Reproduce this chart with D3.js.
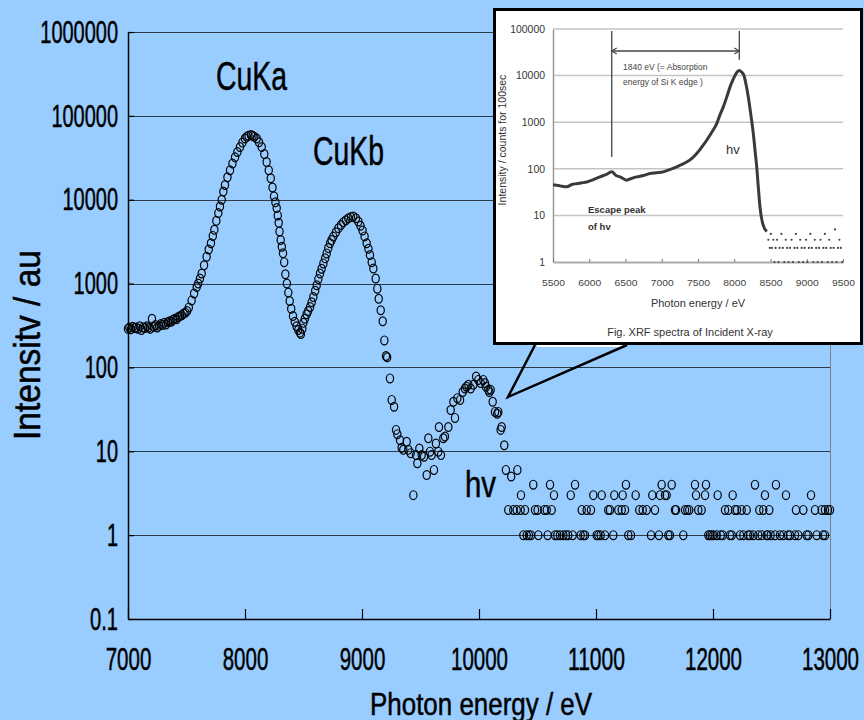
<!DOCTYPE html>
<html>
<head>
<meta charset="utf-8">
<script src="https://cdnjs.cloudflare.com/ajax/libs/d3/7.8.5/d3.min.js"></script>
<style>
  body { margin: 0; background: #99ccff; }
  svg { display: block; font-family: "Liberation Sans", Arial, sans-serif; }
  .heavy { stroke: #000; stroke-width: 0.5px; }
</style>
</head>
<body>
<div id="chart"></div>
<script>
// ---- data: [photon energy (eV), intensity (au)] ----
const background = [
  [7000,290],[7012,300],[7025,285],[7040,305],[7055,295],[7070,300],[7085,290],[7100,310],
  [7115,280],[7130,300],[7145,295],[7160,310],[7175,300],[7190,290],[7205,380],[7220,305],
  [7235,320],[7250,300],[7265,315],[7280,330],[7295,320],[7310,340],[7325,325],[7340,345],
  [7355,355],[7370,350],[7385,370],[7400,380],[7415,375],[7430,400],[7445,410],[7460,420],
  [7475,440],[7490,450],[7505,470],[7520,520]
];
const cuKaPeak = [
  [7544,630],[7565,760],[7587,910],[7600,1000],[7615,1150],[7630,1320],[7650,1650],[7672,2090],
  [7690,2550],[7709,3020],[7725,3700],[7738,4370],[7755,5600],[7772,6920],[7786,8300],[7801,10000],
  [7815,12500],[7829,15000],[7850,18500],[7872,22400],[7893,27000],[7915,32000],[7935,37000],
  [7957,42600],[7978,48000],[8000,53700],[8015,56500],[8030,58000],[8051,59000],[8065,58000],
  [8080,56500],[8100,53700],[8120,48500],[8143,42600],[8165,35000],[8185,28200],[8203,22500],
  [8220,18000],[8235,14000],[8248,11000],[8260,9300],[8271,7940],[8280,6500],[8288,5300],
  [8295,4170],[8305,3300],[8315,2750],[8325,2300],[8335,1800],[8345,1290],[8358,1000],[8370,780],
  [8382,620],[8395,500],[8410,410],[8425,350],[8440,310],[8455,280],[8470,260],[8478,250]
];
const cuKbPeak = [
  [8490,290],[8499,340],[8512,380],[8527,430],[8540,470],[8556,525],[8570,600],[8584,690],
  [8600,820],[8613,955],[8627,1130],[8641,1320],[8655,1500],[8670,1740],[8685,2000],[8698,2290],
  [8712,2650],[8727,3020],[8740,3300],[8755,3630],[8777,4100],[8798,4570],[8820,5000],[8840,5400],
  [8862,5700],[8883,6000],[8905,6200],[8926,6300],[8948,6000],[8969,5500],[8987,4900],[9005,4300],
  [9022,3650],[9040,3020],[9055,2600],[9068,2190],[9083,1800],[9097,1510],[9117,1150],[9131,870],
  [9143,660],[9160,480],[9177,355],[9191,210],[9205,137],[9215,132]
];
const hvPeak = [
  [9239,74],[9254,41],[9274,34],[9291,18],[9302,16],[9325,13.5],[9339,11],[9353,10.4],[9382,13],
  [9396,10.4],[9416,9.5],[9439,3],[9462,9],[9473,7.2],[9490,10.8],[9510,9],[9530,8.6],[9553,5.2],
  [9567,14.3],[9581,9.9],[9595,9],[9615,6],[9632,12.4],[9652,9.9],[9658,19.5],[9675,9],[9695,14.3],
  [9709,15],[9738,19.5],[9758,31],[9781,39],[9795,25],[9815,43],[9838,41],[9861,51],[9880,56],
  [9893,59],[9909,62],[9929,56],[9952,62],[9975,78],[9994,71],[10015,65],[10037,71],[10051,65],
  [10060,59],[10080,54],[10088,51],[10100,54],[10117,39],[10137,29.5],[10156,28],[10165,29.5],
  [10185,18],[10194,19.5],[10216,11.8],[10230,6],[10275,5],[10328,6]
];
// energies of the tail points, grouped by their count
const tailFours = [10464,10607,10821,11256,11561,11647,11846,11940,12359,12538];
const tailThrees = [10359,10641,10784,10977,11049,11156,11228,11339,11481,11547,11590,11604,
  11855,11932,12040,12168,12444,12624,12838];
const tailTwos = [10250,10293,10322,10356,10393,10479,10501,10558,10579,10621,10878,10920,10957,
  11105,11120,11191,11220,11248,11370,11399,11433,11504,11675,11684,11761,11780,11797,11874,11903,
  12103,12131,12188,12205,12245,12288,12396,12430,12481,12709,12772,12872,12929,12957,12983,13000];
const tailOnes = [10379,10408,10427,10444,10507,10587,10650,10669,10692,10721,10744,10763,10801,
  10869,10892,10906,11006,11020,11040,11077,11148,11276,11299,11470,11538,11618,11632,11746,11960,
  11974,11988,12003,12032,12066,12083,12145,12160,12231,12259,12300,12316,12345,12387,12416,12459,
  12467,12493,12530,12573,12601,12641,12658,12701,12729,12800,12815,12886,12940,12957];

const xTicks = [7000,8000,9000,10000,11000,12000,13000];
const yTicks = [0.1,1,10,100,1000,10000,100000,1000000];
const yTickLabels = ["0.1","1","10","100","1000","10000","100000","1000000"];

// inset (XRF spectrum of the incident X-ray)
const insetCurve = [
  [5500,45],[5528,45],[5600,43],[5689,41],[5760,46],[5827,48],[5900,50],[5965,52],[6050,58],
  [6148,67],[6230,75],[6310,86],[6370,72],[6424,67],[6517,57],[6580,62],[6654,67],[6750,72],
  [6838,79],[6930,82],[7021,86],[7110,96],[7206,110],[7280,125],[7344,140],[7420,170],[7482,213],
  [7550,290],[7620,410],[7690,610],[7758,930],[7800,1400],[7849,2130],[7900,3600],[7941,5660],
  [7980,8000],[8010,10000],[8040,12000],[8070,12900],[8100,12000],[8134,10000],[8165,6200],
  [8194,3470],[8230,1400],[8263,570],[8290,220],[8310,110],[8335,35],[8355,15],[8392,6.7],[8448,4.5]
];
const insetTail = [
  [8470,3],[8490,2],[8505,4],[8520,2],[8540,3],[8555,1],[8570,2],[8590,3],[8610,1],[8625,2],
  [8650,4],[8670,2],[8690,1],[8710,3],[8730,2],[8750,1],[8770,2],[8790,3],[8810,1],[8830,2],
  [8850,4],[8870,2],[8890,1],[8910,3],[8930,2],[8950,1],[8970,2],[8990,3],[9010,1],[9030,2],
  [9050,4],[9070,2],[9090,1],[9110,3],[9130,2],[9150,1],[9170,2],[9190,3],[9210,1],[9230,2],
  [9250,4],[9270,2],[9290,1],[9310,3],[9330,2],[9350,1],[9370,2],[9390,5],[9410,1],[9430,2],
  [9450,3],[9470,2],[9490,1]
];
const insetXTicks = [5500,6000,6500,7000,7500,8000,8500,9000,9500];
const insetYTicks = [1,10,100,1000,10000,100000];
const escapeEnergy = 6310;
const peakEnergy = 8070;

// ---- layout ----
const W = 864, H = 720;
const plot = { left: 128, right: 830, top: 32, bottom: 619 };

const svg = d3.select("#chart").append("svg")
  .attr("width", W)
  .attr("height", H);

svg.append("rect")
  .attr("width", W)
  .attr("height", H)
  .attr("fill", "#99ccff");

const x = d3.scaleLinear().domain([7000, 13000]).range([plot.left, plot.right]);
const y = d3.scaleLog().domain([0.1, 1e6]).range([plot.bottom, plot.top]);

// horizontal gridlines
svg.append("g")
  .selectAll("line")
  .data(yTicks.slice(1))
  .join("line")
  .attr("x1", plot.left)
  .attr("x2", plot.right)
  .attr("y1", d => Math.round(y(d)) + 0.5)
  .attr("y2", d => Math.round(y(d)) + 0.5)
  .attr("stroke", "#2e3a46")
  .attr("stroke-width", 1.2);

// right border of plot area
svg.append("line")
  .attr("x1", plot.right + 0.5).attr("x2", plot.right + 0.5)
  .attr("y1", plot.top).attr("y2", plot.bottom)
  .attr("stroke", "#808080");

// y axis
const yAxis = svg.append("g")
  .attr("transform", `translate(${plot.left},0)`)
  .call(d3.axisLeft(y)
    .tickValues(yTicks)
    .tickFormat((d, i) => yTickLabels[i])
    .tickSizeInner(-6)
    .tickSizeOuter(0)
    .tickPadding(10));
yAxis.attr("font-family", null).attr("font-size", null);
yAxis.select(".domain").attr("stroke", "#000").attr("stroke-width", 1.5);
yAxis.selectAll(".tick line").attr("stroke", "#000").attr("stroke-width", 1.2);
yAxis.selectAll("text")
  .attr("class", "heavy")
  .attr("fill", "#000")
  .style("font-size", "32px")
  .attr("lengthAdjust", "spacingAndGlyphs")
  .attr("textLength", function () {
    const t = this.textContent;
    return t === "0.1" ? 28 : t.length * 11.1;
  });

// x axis
const xAxis = svg.append("g")
  .attr("transform", `translate(0,${plot.bottom})`)
  .call(d3.axisBottom(x)
    .tickValues(xTicks)
    .tickFormat(d => String(d))
    .tickSizeInner(-10)
    .tickSizeOuter(0)
    .tickPadding(29));
xAxis.attr("font-family", null).attr("font-size", null);
xAxis.select(".domain").attr("stroke", "#000").attr("stroke-width", 1.5);
xAxis.selectAll(".tick line").attr("stroke", "#000").attr("stroke-width", 1.2);
xAxis.selectAll("text")
  .attr("class", "heavy")
  .attr("fill", "#000")
  .style("font-size", "31px")
  .attr("lengthAdjust", "spacingAndGlyphs")
  .attr("textLength", function () { return this.textContent.length * 11.4; });

// axis titles
svg.append("text")
  .attr("class", "heavy")
  .attr("x", 481)
  .attr("y", 715)
  .attr("text-anchor", "middle")
  .style("font-size", "32px")
  .attr("textLength", 222)
  .attr("lengthAdjust", "spacingAndGlyphs")
  .text("Photon energy / eV");

svg.append("text")
  .attr("class", "heavy")
  .attr("transform", "translate(40,345) rotate(-90)")
  .attr("text-anchor", "middle")
  .style("font-size", "36px")
  .attr("textLength", 190)
  .attr("lengthAdjust", "spacingAndGlyphs")
  .text("Intensitv / au");

// scatter
const allPoints = background.concat(cuKaPeak, cuKbPeak, hvPeak,
  tailFours.map(e => [e, 4]),
  tailThrees.map(e => [e, 3]),
  tailTwos.map(e => [e, 2]),
  tailOnes.map(e => [e, 1]));

svg.append("g")
  .selectAll("ellipse")
  .data(allPoints)
  .join("ellipse")
  .attr("cx", d => x(d[0]))
  .attr("cy", d => y(d[1]))
  .attr("rx", 3.6)
  .attr("ry", 4.4)
  .attr("fill", "none")
  .attr("stroke", "#000")
  .attr("stroke-width", 1.2);

// peak labels
const labels = [
  { text: "CuKa", x: 216, y: 90, size: 41, len: 71 },
  { text: "CuKb", x: 313, y: 165, size: 40, len: 71 },
  { text: "hv", x: 465, y: 497, size: 37, len: 31 }
];
svg.append("g")
  .selectAll("text")
  .data(labels)
  .join("text")
  .attr("class", "heavy")
  .attr("x", d => d.x)
  .attr("y", d => d.y)
  .style("font-size", d => d.size + "px")
  .attr("textLength", d => d.len)
  .attr("lengthAdjust", "spacingAndGlyphs")
  .text(d => d.text);

// ---- inset callout ----
const inset = svg.append("g");

inset.append("rect")
  .attr("x", 494.5).attr("y", 9.5)
  .attr("width", 367).attr("height", 334)
  .attr("fill", "#fff")
  .attr("stroke", "#000")
  .attr("stroke-width", 3);

// callout pointer
inset.append("line")
  .attr("x1", 537).attr("x2", 627).attr("y1", 346).attr("y2", 346)
  .attr("stroke", "#fff").attr("stroke-width", 2);
inset.append("path")
  .attr("d", "M535,345 L508,397 L627,345")
  .attr("fill", "none")
  .attr("stroke", "#000")
  .attr("stroke-width", 2.5);

const ix = d3.scaleLinear().domain([5500, 9500]).range([553, 843]);
const iy = d3.scaleLog().domain([1, 1e5]).range([262, 29]);

inset.append("g")
  .selectAll("line")
  .data(insetYTicks.slice(1))
  .join("line")
  .attr("x1", ix(5500)).attr("x2", ix(9500))
  .attr("y1", d => iy(d)).attr("y2", d => iy(d))
  .attr("stroke", "#c4c4c4")
  .attr("stroke-width", 1.5);

const iyAxis = inset.append("g")
  .attr("transform", `translate(${ix(5500)},0)`)
  .call(d3.axisLeft(iy).tickValues(insetYTicks).tickFormat(d3.format("d")).tickSize(0).tickPadding(8));
iyAxis.attr("font-family", null).attr("font-size", null);
iyAxis.select(".domain").attr("stroke", "#999").attr("stroke-width", 1.5);
iyAxis.selectAll("text").attr("fill", "#333").style("font-size", "10.5px")
  .attr("lengthAdjust", "spacingAndGlyphs")
  .attr("textLength", function () { return this.textContent.length * 5.8; });

const ixAxis = inset.append("g")
  .attr("transform", `translate(0,${iy(1)})`)
  .call(d3.axisBottom(ix).tickValues(insetXTicks).tickFormat(d3.format("d")).tickSizeInner(-3).tickSizeOuter(0).tickPadding(18));
ixAxis.attr("font-family", null).attr("font-size", null);
ixAxis.select(".domain").attr("stroke", "#aaa").attr("stroke-width", 2);
ixAxis.selectAll(".tick line").attr("stroke", "#777");
ixAxis.selectAll("text").attr("fill", "#444").style("font-size", "9px")
  .attr("lengthAdjust", "spacingAndGlyphs")
  .attr("textLength", 23);

inset.append("text")
  .attr("x", 698).attr("y", 307)
  .attr("text-anchor", "middle")
  .attr("fill", "#333")
  .style("font-size", "11px")
  .text("Photon energy / eV");

inset.append("text")
  .attr("x", 690).attr("y", 336)
  .attr("text-anchor", "middle")
  .attr("fill", "#333")
  .style("font-size", "11px")
  .text("Fig. XRF spectra of Incident X-ray");

inset.append("text")
  .attr("transform", "translate(506,140) rotate(-90)")
  .attr("text-anchor", "middle")
  .attr("fill", "#333")
  .style("font-size", "10.5px")
  .text("Intensity / counts for 100sec");

// spectrum curve and tail
inset.append("path")
  .datum(insetCurve)
  .attr("fill", "none")
  .attr("stroke", "#3a3a3a")
  .attr("stroke-width", 3)
  .attr("stroke-linejoin", "round")
  .attr("d", d3.line().x(d => ix(d[0])).y(d => iy(d[1])).curve(d3.curveMonotoneX));

inset.append("g")
  .selectAll("circle")
  .data(insetTail)
  .join("circle")
  .attr("cx", d => ix(d[0]))
  .attr("cy", d => iy(d[1]))
  .attr("r", 1.1)
  .attr("fill", "#444");

// escape peak / absorption edge annotation
const markTop = iy(1e5) + 2;
inset.append("line")
  .attr("x1", ix(escapeEnergy)).attr("x2", ix(escapeEnergy))
  .attr("y1", markTop).attr("y2", iy(180))
  .attr("stroke", "#444").attr("stroke-width", 1.3);
inset.append("line")
  .attr("x1", ix(peakEnergy)).attr("x2", ix(peakEnergy))
  .attr("y1", markTop).attr("y2", iy(22000))
  .attr("stroke", "#444").attr("stroke-width", 1.3);
inset.append("line")
  .attr("x1", ix(escapeEnergy)).attr("x2", ix(peakEnergy))
  .attr("y1", 51).attr("y2", 51)
  .attr("stroke", "#444").attr("stroke-width", 1.3);
inset.append("path")
  .attr("d", `M${ix(escapeEnergy) + 5},48 L${ix(escapeEnergy)},51 L${ix(escapeEnergy) + 5},54 M${ix(peakEnergy) - 5},48 L${ix(peakEnergy)},51 L${ix(peakEnergy) - 5},54`)
  .attr("fill", "none")
  .attr("stroke", "#444").attr("stroke-width", 1.2);

inset.append("text")
  .attr("x", 623).attr("y", 70)
  .attr("fill", "#444")
  .style("font-size", "8.5px")
  .text("1840 eV (= Absorption");
inset.append("text")
  .attr("x", 623).attr("y", 85)
  .attr("fill", "#444")
  .style("font-size", "8.5px")
  .text("energy of Si K edge )");

inset.append("text")
  .attr("x", 726).attr("y", 154)
  .attr("fill", "#333")
  .style("font-size", "13px")
  .text("hv");

inset.append("text")
  .attr("x", 588).attr("y", 213)
  .attr("fill", "#333")
  .style("font-size", "9.5px")
  .style("font-weight", "bold")
  .text("Escape peak");
inset.append("text")
  .attr("x", 588).attr("y", 230)
  .attr("fill", "#333")
  .style("font-size", "9.5px")
  .style("font-weight", "bold")
  .text("of hv");
</script>
</body>
</html>
